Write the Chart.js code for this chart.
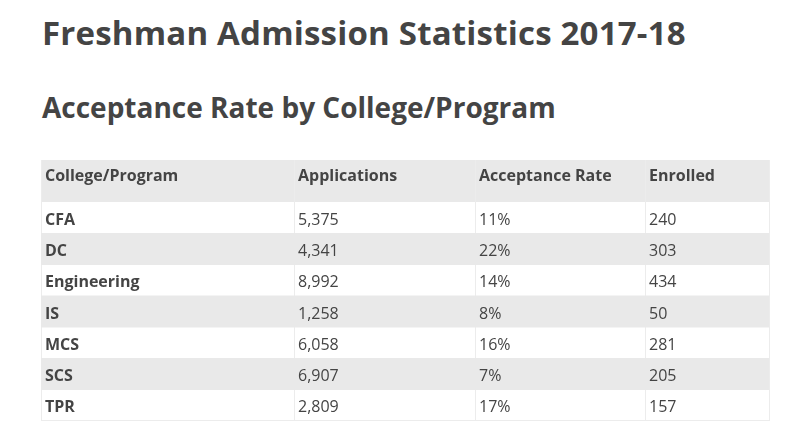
<!DOCTYPE html>
<html lang="en">
<head>
<meta charset="UTF-8">
<title>Freshman Admission Statistics 2017-18</title>
<script src="https://cdn.jsdelivr.net/npm/chart.js"></script>
<style>
    body {
        margin: 0;
        background: #fff;
        font-family: "Open Sans", sans-serif;
        color: #444;
    }
    .page {
        position: relative;
        width: 800px;
        height: 433px;
        overflow: hidden;
    }
    h1, h2 {
        position: absolute;
        left: 42px;
        margin: 0;
        line-height: 1;
        font-weight: bold;
        white-space: nowrap;
    }
    h1 { top: 16px; font-size: 33px; letter-spacing: 0.2px; }
    h2 { top: 93px; font-size: 28px; }
    #table {
        position: absolute;
        left: 0;
        top: 150px;
    }
</style>
</head>
<body>
<div class="page">
    <h1>Freshman Admission Statistics 2017-18</h1>
    <h2>Acceptance Rate by College/Program</h2>
    <canvas id="table" width="800" height="283"></canvas>
</div>

<script>
    // data
    const columns = ['College/Program', 'Applications', 'Acceptance Rate', 'Enrolled'];
    const programs = ['CFA', 'DC', 'Engineering', 'IS', 'MCS', 'SCS', 'TPR'];
    const applications = [5375, 4341, 8992, 1258, 6058, 6907, 2809];
    const acceptanceRate = [11, 22, 14, 8, 16, 7, 17];
    const enrolled = [240, 303, 434, 50, 281, 205, 157];

    // layout / style
    const colWidths = [253, 181, 170, 124];
    const HEADER_H = 42;
    const PAD = 4;
    const TEXT = '#444';
    const STRIPE = '#e9e9e9';
    const LINE = '#ececec';
    const FONT = "'Open Sans', sans-serif";

    const bounds = [0];
    colWidths.forEach(w => bounds.push(bounds[bounds.length - 1] + w));
    const tableWidth = bounds[bounds.length - 1];

    // cell text per row
    const rows = programs.map((p, i) => [
        p,
        applications[i].toLocaleString('en-US'),
        acceptanceRate[i] + '%',
        String(enrolled[i])
    ]);

    const tablePlugin = {
        id: 'tableText',
        beforeDatasetsDraw(chart) {
            const { ctx, chartArea, scales } = chart;
            const x = scales.x;
            const top = chartArea.top - HEADER_H;
            ctx.save();
            // header background
            ctx.fillStyle = STRIPE;
            ctx.fillRect(x.getPixelForValue(0), top, x.getPixelForValue(tableWidth) - x.getPixelForValue(0), HEADER_H);
            ctx.restore();
        },
        afterDraw(chart) {
            const { ctx, chartArea, scales } = chart;
            const x = scales.x, y = scales.y;
            const top = chartArea.top - HEADER_H;
            ctx.save();
            // header separators + bottom border
            ctx.strokeStyle = LINE;
            ctx.lineWidth = 1;
            ctx.beginPath();
            bounds.forEach(b => {
                const px = Math.round(x.getPixelForValue(b)) + 0.5;
                ctx.moveTo(px, top);
                ctx.lineTo(px, chartArea.top);
            });
            const by = Math.round(chartArea.bottom) - 0.5;
            ctx.moveTo(x.getPixelForValue(0), by);
            ctx.lineTo(x.getPixelForValue(tableWidth), by);
            ctx.stroke();

            ctx.fillStyle = TEXT;
            ctx.textAlign = 'left';
            ctx.textBaseline = 'alphabetic';

            // header text
            ctx.font = 'bold 16px ' + FONT;
            columns.forEach((c, j) => {
                ctx.fillText(c, x.getPixelForValue(bounds[j]) + PAD, top + 21);
            });

            // body text
            rows.forEach((cells, i) => {
                const cy = y.getPixelForValue(i) + 7;
                cells.forEach((t, j) => {
                    ctx.font = (j === 0 ? 'bold ' : '') + '16px ' + FONT;
                    ctx.fillText(t, x.getPixelForValue(bounds[j]) + PAD, cy);
                });
            });
            ctx.restore();
        }
    };

    const chart = new Chart(document.getElementById('table'), {
        type: 'bar',
        data: {
            labels: programs,
            datasets: [{
                // striped rows
                data: programs.map((p, i) => (i % 2 ? tableWidth : null)),
                backgroundColor: STRIPE,
                borderWidth: 0,
                barPercentage: 1,
                categoryPercentage: 1
            }]
        },
        options: {
            indexAxis: 'y',
            responsive: false,
            animation: false,
            layout: { padding: { left: 41, right: 31, top: 52, bottom: 12 } },
            plugins: {
                legend: { display: false },
                tooltip: { enabled: false }
            },
            scales: {
                x: {
                    type: 'linear',
                    min: 0,
                    max: tableWidth,
                    z: 1,
                    afterBuildTicks: s => { s.ticks = bounds.map(v => ({ value: v })); },
                    ticks: { display: false },
                    grid: { color: LINE, drawTicks: false },
                    border: { display: false }
                },
                y: {
                    type: 'category',
                    display: false
                }
            }
        },
        plugins: [tablePlugin]
    });
</script>
</body>
</html>
